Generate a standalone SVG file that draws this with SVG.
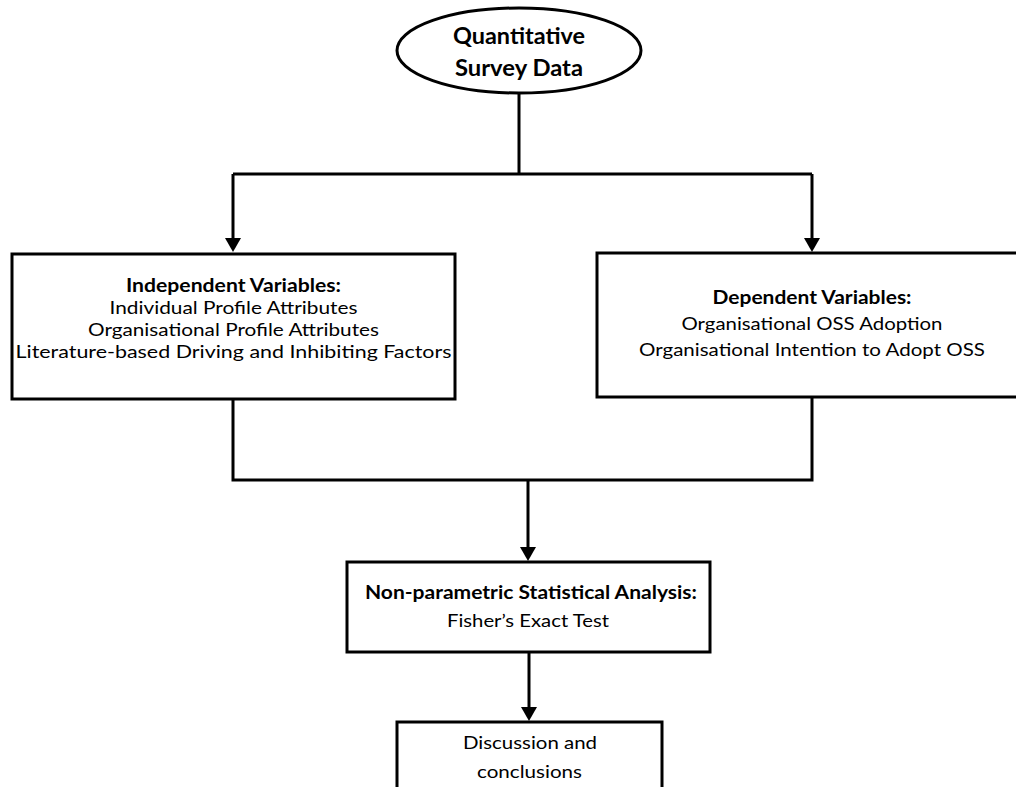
<svg xmlns="http://www.w3.org/2000/svg" width="1016" height="787" viewBox="0 0 1016 787">
  <style>
    .shape { fill: #ffffff; stroke: #000000; stroke-width: 3; }
    .wire { fill: none; stroke: #000000; stroke-width: 3; }
    text { font-family: Lato, "Open Sans", "Liberation Sans", Arial, sans-serif; fill: #000000; text-anchor: middle; }
    .title { font-size: 22px; font-weight: bold; }
    .head { font-size: 18px; font-weight: bold; }
    .body { font-size: 18px; }
  </style>
  <defs>
    <marker id="arrow" viewBox="0 0 14 16" refX="10" refY="8" markerWidth="14" markerHeight="16" markerUnits="userSpaceOnUse" orient="auto">
      <path d="M0,0 L14,8 L0,16 Z" fill="#000000"/>
    </marker>
  </defs>

  <!-- connectors -->
  <g id="connectors">
    <path class="wire" d="M519,93 V174"/>
    <path class="wire" d="M233,174 H812"/>
    <path class="wire" d="M233,174 V248" marker-end="url(#arrow)"/>
    <path class="wire" d="M812,174 V248" marker-end="url(#arrow)"/>
    <path class="wire" d="M233,399 V480 H812 V397"/>
    <path class="wire" d="M528,480 V557" marker-end="url(#arrow)"/>
    <path class="wire" d="M529,652 V717" marker-end="url(#arrow)"/>
  </g>

  <!-- source data -->
  <g id="survey-data">
    <ellipse class="shape" cx="519" cy="50.5" rx="122" ry="42.5"/>
    <text class="title" x="519" y="44" textLength="132" lengthAdjust="spacingAndGlyphs">Quantitative</text>
    <text class="title" x="519" y="76" textLength="128" lengthAdjust="spacingAndGlyphs">Survey Data</text>
  </g>

  <!-- independent variables -->
  <g id="independent-variables">
    <rect class="shape" x="12" y="254" width="443" height="145"/>
    <text class="head" x="233.5" y="292" textLength="215" lengthAdjust="spacingAndGlyphs">Independent Variables:</text>
    <text class="body" x="233.5" y="314" textLength="248" lengthAdjust="spacingAndGlyphs">Individual Profile Attributes</text>
    <text class="body" x="233.5" y="336" textLength="291" lengthAdjust="spacingAndGlyphs">Organisational Profile Attributes</text>
    <text class="body" x="233.5" y="358" textLength="436" lengthAdjust="spacingAndGlyphs">Literature-based Driving and Inhibiting Factors</text>
  </g>

  <!-- dependent variables -->
  <g id="dependent-variables">
    <rect class="shape" x="597" y="253" width="430" height="144"/>
    <text class="head" x="812" y="304" textLength="199" lengthAdjust="spacingAndGlyphs">Dependent Variables:</text>
    <text class="body" x="812" y="330" textLength="261" lengthAdjust="spacingAndGlyphs">Organisational OSS Adoption</text>
    <text class="body" x="812" y="356" textLength="346" lengthAdjust="spacingAndGlyphs">Organisational Intention to Adopt OSS</text>
  </g>

  <!-- analysis -->
  <g id="analysis">
    <rect class="shape" x="347" y="562" width="363" height="90"/>
    <text class="head" x="531" y="599" textLength="332" lengthAdjust="spacingAndGlyphs">Non-parametric Statistical Analysis:</text>
    <text class="body" x="528" y="627" textLength="162" lengthAdjust="spacingAndGlyphs">Fisher’s Exact Test</text>
  </g>

  <!-- discussion -->
  <g id="discussion">
    <rect class="shape" x="397" y="722" width="265" height="80"/>
    <text class="body" x="530" y="749" textLength="134" lengthAdjust="spacingAndGlyphs">Discussion and</text>
    <text class="body" x="529.5" y="778" textLength="105" lengthAdjust="spacingAndGlyphs">conclusions</text>
  </g>
</svg>
